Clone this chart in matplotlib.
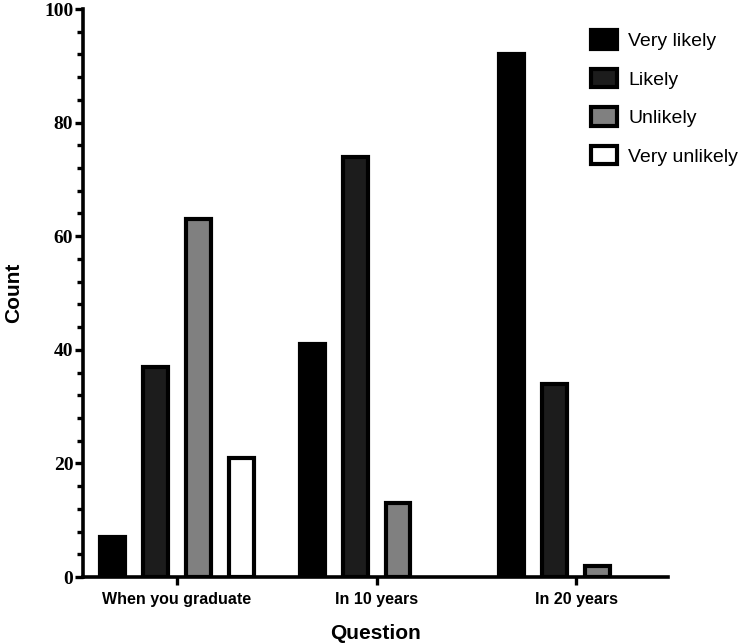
import matplotlib.pyplot as plt
import numpy as np
from matplotlib.ticker import MultipleLocator

# data
questions = ["When you graduate", "In 10 years", "In 20 years"]
responses = ["Very likely", "Likely", "Unlikely", "Very unlikely"]
very_likely = [7, 41, 92]
likely = [37, 74, 34]
unlikely = [63, 13, 2]
very_unlikely = [21, None, None]

series = [very_likely, likely, unlikely, very_unlikely]
fills = ["#000000", "#1c1c1c", "#808080", "#ffffff"]

fig = plt.figure(figsize=(7.5, 6.44), dpi=100)
ax = fig.add_axes([0.1107, 0.104, 0.78, 0.882])

x = np.arange(len(questions))
pitch = 0.215
width = 0.125
handles = []
for i, (vals, col) in enumerate(zip(series, fills)):
    off = (i - 1.5) * pitch
    xs = [xi + off for xi, v in zip(x, vals) if v is not None]
    hs = [v for v in vals if v is not None]
    b = ax.bar(xs, hs, width=width, color=col, edgecolor="black",
               linewidth=3.0, label=responses[i], zorder=3)
    handles.append(b)

ax.set_xlim(-0.47, 2.46)
ax.set_ylim(0, 100)
ax.set_xticks(x)
ax.set_xticklabels(questions, fontsize=11.5, fontweight="bold",
                   family="Liberation Sans")
ax.yaxis.set_major_locator(MultipleLocator(20))
ax.yaxis.set_minor_locator(MultipleLocator(4))
for lab in ax.get_yticklabels():
    lab.set_family("Liberation Serif")
    lab.set_fontweight("bold")
    lab.set_fontsize(14)

for s in ["top", "right"]:
    ax.spines[s].set_visible(False)
for s in ["left", "bottom"]:
    ax.spines[s].set_linewidth(2.6)
ax.tick_params(axis="y", which="major", length=6, width=2.4, pad=1)
ax.tick_params(axis="y", which="minor", length=4, width=2.4)
ax.tick_params(axis="x", which="major", length=6, width=2.4, pad=5)

ax.set_xlabel("Question", fontsize=15, fontweight="bold",
              family="Liberation Sans", labelpad=12)
ax.set_ylabel("Count", fontsize=15, fontweight="bold",
              family="Liberation Sans", labelpad=15)

leg = fig.legend(handles=handles, loc="upper left",
                 bbox_to_anchor=(0.765, 0.98), frameon=False,
                 prop={"family": "Liberation Sans", "size": 14},
                 handlelength=1.3, handleheight=1.1, labelspacing=0.95,
                 handletextpad=0.6)

fig.savefig("out.png", dpi=100)
